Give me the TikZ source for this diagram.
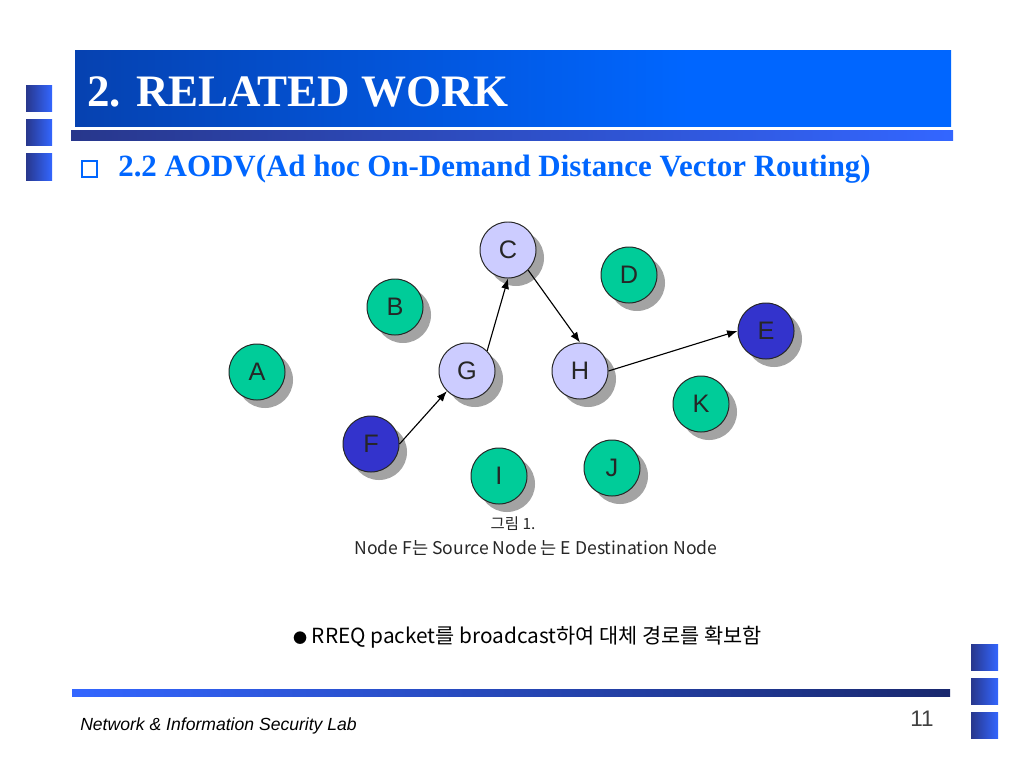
\documentclass[tikz,border=0pt]{standalone}
\usepackage{fontspec}
\setmainfont{Liberation Serif}
\newfontfamily\arial{Liberation Sans}
\newfontfamily\kor{Noto Sans CJK KR}
\usepackage{tikz}
\usetikzlibrary{arrows.meta,positioning,shadows,calc}

\definecolor{nodegreen}{RGB}{0,204,153}
\definecolor{nodelav}{RGB}{204,204,255}
\definecolor{nodeblue}{RGB}{51,51,204}
\definecolor{navy}{RGB}{10,40,120}
\definecolor{brightblue}{RGB}{0,102,255}
\definecolor{barnavy}{RGB}{40,55,140}
\definecolor{barblue}{RGB}{51,102,255}
\definecolor{footnavy}{RGB}{25,40,110}

\pgfdeclarehorizontalshading{titlebar}{100bp}{color(0bp)=(navy); color(60bp)=(brightblue); color(100bp)=(brightblue)}

\tikzset{
  host/.style={circle, draw=black!85, line width=0.7pt, minimum size=1.4cm, inner sep=0pt,
    font=\arial\fontsize{18}{18}\selectfont, text=black!85,
    drop shadow={shadow xshift=0.2cm, shadow yshift=-0.2cm, fill=black!36, opacity=1}},
  idle/.style={host, fill=nodegreen},
  relay/.style={host, fill=nodelav},
  endpt/.style={host, fill=nodeblue},
  hop/.style={-{Latex[length=2.6mm,width=2mm]}, line width=0.8pt},
  sqr/.style={left color=barnavy, right color=barblue},
  txt/.style={inner sep=0pt}
}

\begin{document}
\begin{tikzpicture}[x=0.025cm, y=-0.025cm]
  \useasboundingbox (0,0) rectangle (1024,768);

  % title bar
  \shade[shading=titlebar] (75,51) rectangle (951,127);
  \shade[left color=barnavy, right color=barblue] (71,131) rectangle (953,141);
  \node[txt, anchor=base west, text=white, font=\bfseries\fontsize{32}{32}\selectfont] (title) at (87,107) {2. RELATED WORK};

  % side squares
  \foreach \y in {86,120,154} {
    \shade[sqr] (26,\y) rectangle (52,\y+26);
  }
  \foreach \y in {644,678,712} {
    \shade[sqr] (971,\y) rectangle (998,\y+26);
  }

  % subtitle
  \draw[brightblue, line width=1.6pt] (82,161) rectangle (97,177);
  \node[txt, anchor=base west, text=brightblue, font=\bfseries\fontsize{22}{22}\selectfont] (sub) at (118,177)
    {2.2 AODV(Ad hoc On-Demand Distance Vector Routing)};

  % the nodes
  \node[idle]  (A) at (257,372) {A};
  \node[idle]  (B) at (395,307) {B};
  \node[relay] (C) at (508,250) {C};
  \node[idle]  (D) at (629,275) {D};
  \node[endpt] (E) at (766,331) {E};
  \node[endpt] (F) at (371,444) {F};
  \node[relay] (G) at (467,371) {G};
  \node[relay] (H) at (580,371) {H};
  \node[idle]  (I) at (499,476) {I};
  \node[idle]  (J) at (612,468) {J};
  \node[idle]  (K) at (701,404) {K};

  % the route
  \draw[hop] (F.east) -- (G.south west);
  \draw[hop] (G.north east) -- (C.south);
  \draw[hop] (C.south east) -- (H.north);
  \draw[hop] (H.east) -- (E.west);

  % caption
  \node[txt, anchor=base, font=\kor\fontsize{11}{11}\selectfont, text=black!85] (fig) at (513,529) {그림 1.};
  \node[txt, anchor=base, font=\kor\fontsize{12.5}{12.5}\selectfont, text=black!85] (cap) at (536,554)
    {Node F는 Source Node 는 E Destination Node};
  \node[txt, anchor=base, font=\kor\fontsize{14.8}{14.8}\selectfont] (note) at (527.5,643)
    {{\fontsize{10}{10}\selectfont ●} RREQ packet를 broadcast하여 대체 경로를 확보함};

  % footer
  \shade[left color=barblue, right color=footnavy] (72,689) rectangle (950,696);
  \node[txt, anchor=base west, font=\arial\itshape\fontsize{12.5}{12.5}\selectfont] (lab) at (80,730)
    {Network \& Information Security Lab};
  \node[txt, anchor=base east, font=\arial\fontsize{16}{16}\selectfont, text=black!75] (page) at (934,726) {11};
\end{tikzpicture}
\end{document}
